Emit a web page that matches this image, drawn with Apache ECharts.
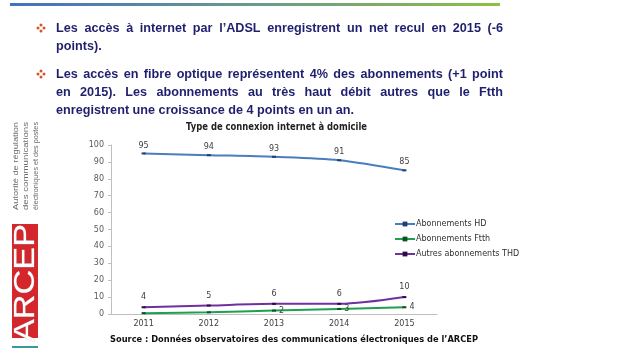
<!DOCTYPE html>
<html><head><meta charset="utf-8">
<script src="https://cdn.jsdelivr.net/npm/echarts@6/dist/echarts.min.js"></script>
<style>html,body{margin:0;padding:0;background:#fff}#c{width:620px;height:350px}</style>
</head><body><div id="c"></div>
<script>
const years = ['2011','2012','2013','2014','2015'];
const hd = [95, 94, 93, 91, 85];
const ftth = [0.5, 1, 2, 3, 4];
const thd = [4, 5, 6, 6, 10];
const seriesNames = ['Abonnements HD', 'Abonnements Ftth', 'Autres abonnements THD'];
const chartTitle = 'Type de connexion internet à domicile';
const sourceText = 'Source : Données observatoires des communications électroniques de l\u2019ARCEP';
const bulletLines = [
  ['Les accès à internet par l\u2019ADSL enregistrent un net recul en 2015 (-6', true],
  ['points).', false],
  ['Les accès en fibre optique représentent 4% des abonnements (+1 point', true],
  ['en 2015). Les abonnements au très haut débit autres que le Ftth', true],
  ['enregistrent une croissance de 4 points en un an.', false]
];
const logoLines = ['Autorité de régulation', 'des communications', 'électroniques et des postes'];

const ctx = document.createElement('canvas').getContext('2d');
function measure(t, font){ ctx.font = font; return ctx.measureText(t).width; }

const g = [];
// top gradient rule
g.push({type:'rect', shape:{x:10,y:3,width:490,height:3}, style:{fill:new echarts.graphic.LinearGradient(0,0,1,0,[{offset:0,color:'#3f72c4'},{offset:0.5,color:'#6a9a8a'},{offset:1,color:'#8cc043'}])}});

// bullet text
const BF = 'bold 13px "Liberation Sans"';
const textColor = '#1f1f6e';
const x0 = 56, x1 = 503;
const s = 298 / measure(bulletLines[4][0], BF);
const ys = [28, 46, 74, 92, 110];
bulletLines.forEach((ln, i) => {
  const [txt, just] = ln;
  if (!just) {
    g.push({type:'text', x:x0, y:ys[i], scaleX:s, style:{text:txt, font:BF, fill:textColor, textAlign:'left', textVerticalAlign:'middle'}});
  } else {
    const words = txt.split(' ');
    const ws = words.map(w => measure(w, BF) * s);
    const tot = ws.reduce((a,b)=>a+b,0);
    const gap = (x1 - x0 - tot) / (words.length - 1);
    let cx = x0;
    words.forEach((w, k) => {
      g.push({type:'text', x:cx, y:ys[i], scaleX:s, style:{text:w, font:BF, fill:textColor, textAlign:'left', textVerticalAlign:'middle'}});
      cx += ws[k] + gap;
    });
  }
});
// bullets (small 4-dot diamonds)
[28, 74].forEach(y => {
  [[0,-3],[0,3],[-3,0],[3,0]].forEach(([dx,dy]) => {
    g.push({type:'circle', shape:{cx:41+dx, cy:y+dy, r:1.5}, style:{fill:'#d2552a'}});
  });
});

// chart title
const TF = 'bold 10px "DejaVu Sans"';
g.push({type:'text', x:186, y:127, scaleX:181/measure(chartTitle, TF), style:{text:chartTitle, font:TF, fill:'#222', textAlign:'left', textVerticalAlign:'middle'}});
// source
const SF = 'bold 9px "DejaVu Sans"';
g.push({type:'text', x:110, y:340, scaleX:368/measure(sourceText, SF), style:{text:sourceText, font:SF, fill:'#111', textAlign:'left', textVerticalAlign:'middle'}});

// logo
const LF = '8px "Liberation Sans"';
[16, 26, 36].forEach((cx, i) => {
  g.push({type:'text', x:cx, y:210, rotation:Math.PI/2, scaleX:88/measure(logoLines[i], LF), style:{text:logoLines[i], font:LF, fill:'#6a6a6a', textAlign:'left', textVerticalAlign:'middle'}});
});
g.push({type:'rect', shape:{x:12,y:224,width:26,height:114}, style:{fill:'#d4262b'}});
const AF = '30px "Liberation Sans"';
g.push({type:'text', x:26, y:342, rotation:Math.PI/2, scaleX:118/measure('ARCEP', AF), style:{text:'ARCEP', font:AF, fill:'#fff', stroke:'#b0b0b0', lineWidth:0.4, textAlign:'left', textVerticalAlign:'middle'}});
g.push({type:'rect', shape:{x:12,y:346,width:26,height:2}, style:{fill:'#3a9a9a'}});

const labelFont = {fontSize:8, color:'#404040', fontFamily:'DejaVu Sans'};
const chart = echarts.init(document.getElementById('c'));
chart.setOption({
  animation:false,
  backgroundColor:'#fff',
  grid:{left:111, right:183, top:145, bottom:36},
  legend:{orient:'vertical', left:389, top:215, itemWidth:20, itemHeight:6, itemGap:7,
    textStyle:{fontSize:8, color:'#303030', fontFamily:'DejaVu Sans', padding:[0,0,0,-4]},
    data:seriesNames},
  xAxis:{type:'category', data:years, boundaryGap:true,
    axisLine:{lineStyle:{color:'#bfbfbf'}}, axisTick:{length:4, lineStyle:{color:'#bfbfbf'}},
    axisLabel:{fontSize:8, color:'#404040', fontFamily:'DejaVu Sans', margin:6}},
  yAxis:{type:'value', min:0, max:100, interval:10,
    axisLine:{show:true, lineStyle:{color:'#bfbfbf'}}, axisTick:{show:true, length:3, lineStyle:{color:'#bfbfbf'}},
    splitLine:{show:false},
    axisLabel:{fontSize:8, color:'#595959', fontFamily:'DejaVu Sans', margin:7}},
  series:[
    {name:seriesNames[0], type:'line', data:hd, smooth:0.3, symbol:'rect', symbolSize:[4,2],
      lineStyle:{color:'#4a7ebb', width:2}, itemStyle:{color:'#1f3f6a'},
      label:{show:true, position:'top', distance:3, ...labelFont}},
    {name:seriesNames[1], type:'line', data:ftth, smooth:0.3, symbol:'rect', symbolSize:[4,2],
      lineStyle:{color:'#1fa050', width:2}, itemStyle:{color:'#0e4f26'},
      label:{show:true, position:'right', distance:3, ...labelFont, formatter:p => p.dataIndex < 2 ? '' : p.value}},
    {name:seriesNames[2], type:'line', data:thd, smooth:0.3, symbol:'rect', symbolSize:[4,2],
      lineStyle:{color:'#7030a0', width:2}, itemStyle:{color:'#2a0e40'},
      label:{show:true, position:'top', distance:5, ...labelFont}}
  ],
  graphic:g
});
</script></body></html>
